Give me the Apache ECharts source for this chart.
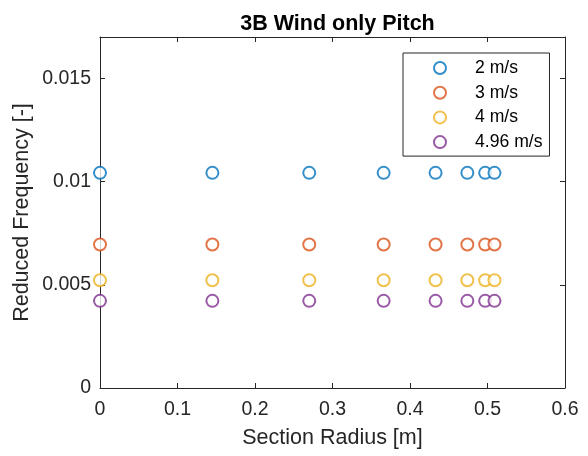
<!DOCTYPE html>
<html>
<head>
<meta charset="utf-8">
<script src="https://cdn.jsdelivr.net/npm/echarts@6/dist/echarts.min.js"></script>
<style>html,body{margin:0;padding:0;background:#fff}#c{width:588px;height:456px}</style>
</head>
<body>
<div id="c"></div>
<script>
const radius = [0, 0.145, 0.27, 0.366, 0.433, 0.474, 0.497, 0.509];
const seriesNames = ['2 m/s', '3 m/s', '4 m/s', '4.96 m/s'];
const freq2 = [0.01042, 0.01042, 0.01042, 0.01042, 0.01042, 0.01042, 0.01042, 0.01042];
const freq3 = [0.00695, 0.00695, 0.00695, 0.00695, 0.00695, 0.00695, 0.00695, 0.00695];
const freq4 = [0.00522, 0.00522, 0.00522, 0.00522, 0.00522, 0.00522, 0.00522, 0.00522];
const freq496 = [0.00422, 0.00422, 0.00422, 0.00422, 0.00422, 0.00422, 0.00422, 0.00422];
const colors = ['#0072BD', '#D95319', '#EDB120', '#7E2F8E'];

const FONT = 'Liberation Sans, Arial, Helvetica, sans-serif';
const AX = '#262626';
const allFreq = [freq2, freq3, freq4, freq496];

const chart = echarts.init(document.getElementById('c'), null, {renderer: 'canvas'});
const commonX = {type: 'value', min: 0, max: 0.6, interval: 0.1};
const commonY = {type: 'value', min: 0, max: 0.017, interval: 0.005};
chart.setOption({
  animation: false,
  backgroundColor: '#fff',
  title: {
    text: '3B Wind only Pitch',
    left: 332.5, top: 8, textAlign: 'center',
    textStyle: {fontFamily: FONT, fontSize: 21.5, fontWeight: 'bold', color: '#000'}
  },
  grid: {left: 100, right: 23, top: 37, bottom: 68, containLabel: false},
  legend: {
    orient: 'vertical', left: 403, top: 53,
    padding: [3, 7, 2, 30],
    itemGap: 0.7, itemWidth: 12, itemHeight: 12,
    borderColor: AX, borderWidth: 1, backgroundColor: '#fff',
    textStyle: {fontFamily: FONT, fontSize: 17.6, color: '#000', lineHeight: 24, padding: [0, 0, 0, 24]},
    data: seriesNames
  },
  xAxis: [
    Object.assign({}, commonX, {
      position: 'bottom',
      name: 'Section Radius [m]', nameLocation: 'middle', nameGap: 39, nameMoveOverlap: false,
      nameTextStyle: {fontFamily: FONT, fontSize: 21.5, color: AX},
      axisLine: {show: true, lineStyle: {color: AX, width: 1}},
      axisTick: {show: true, inside: true, length: 5, lineStyle: {color: AX}},
      axisLabel: {fontFamily: FONT, fontSize: 19.5, color: AX, margin: 12},
      splitLine: {show: false}
    }),
    Object.assign({}, commonX, {
      position: 'top',
      axisLine: {show: true, onZero: false, lineStyle: {color: AX, width: 1}},
      axisTick: {show: true, inside: true, length: 5, lineStyle: {color: AX}},
      axisLabel: {show: false},
      splitLine: {show: false}
    })
  ],
  yAxis: [
    Object.assign({}, commonY, {
      position: 'left',
      name: 'Reduced Frequency [-]', nameLocation: 'middle', nameGap: 67, nameMoveOverlap: false,
      nameTextStyle: {fontFamily: FONT, fontSize: 21.5, color: AX},
      axisLine: {show: true, onZero: false, lineStyle: {color: AX, width: 1}},
      axisTick: {show: true, inside: true, length: 5, lineStyle: {color: AX},
        customValues: [0, 0.005, 0.01, 0.015]},
      axisLabel: {fontFamily: FONT, fontSize: 19.5, color: AX, margin: 9,
        customValues: [0, 0.005, 0.01, 0.015]},
      splitLine: {show: false}
    }),
    Object.assign({}, commonY, {
      position: 'right',
      axisLine: {show: true, onZero: false, lineStyle: {color: AX, width: 1}},
      axisTick: {show: true, inside: true, length: 5, lineStyle: {color: AX},
        customValues: [0, 0.005, 0.01, 0.015]},
      axisLabel: {show: false},
      splitLine: {show: false}
    })
  ],
  series: seriesNames.map((n, i) => ({
    name: n,
    type: 'scatter',
    xAxisIndex: 0, yAxisIndex: 0,
    symbol: 'emptyCircle',
    symbolSize: 12,
    itemStyle: {color: colors[i], borderColor: colors[i], borderWidth: 1},
    data: radius.map((r, j) => [r, allFreq[i][j]])
  }))
});
</script>
</body>
</html>
